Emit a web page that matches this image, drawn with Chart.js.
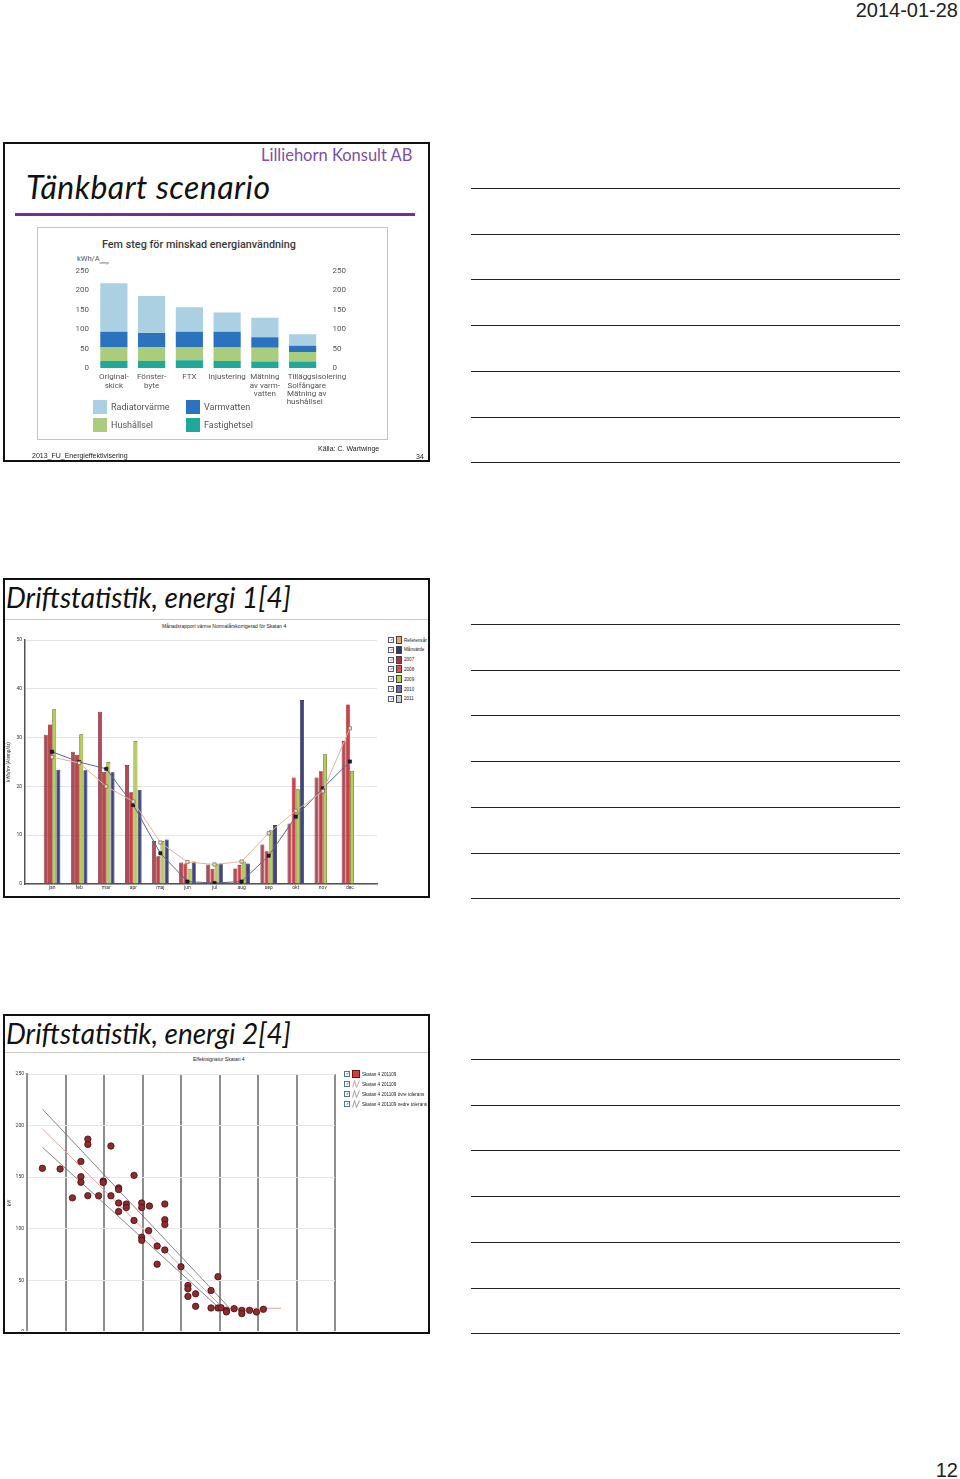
<!DOCTYPE html>
<html lang="sv">
<head>
<meta charset="UTF-8" />
<title>Tänkbart scenario / Driftstatistik</title>
<script src="https://cdn.jsdelivr.net/npm/chart.js@4.4.0/dist/chart.umd.min.js"></script>
<style>
  html, body { margin: 0; padding: 0; background: #fff; }
  body { width: 960px; height: 1479px; position: relative; overflow: hidden; font-family: 'Liberation Sans', Arial, sans-serif; color: #222; }
  .abs { position: absolute; white-space: nowrap; line-height: 1; }
  .slide { position: absolute; left: 3px; width: 427px; height: 320px; border: 2px solid #111; box-sizing: border-box; }
  .note-line { position: absolute; left: 471px; width: 429px; height: 0; border-top: 1.6px solid #222; }
  .slide-title { font-family: 'Lato', 'Open Sans', sans-serif; font-style: italic; font-size: 28px; color: #111; }
  .tiny { font-family: 'Liberation Sans', Arial, sans-serif; font-size: 5px; color: #222; }
  .lg-row { position: absolute; height: 8px; display: flex; align-items: center; font-size: 4.6px; color: #222; }
  .cb { width: 4px; height: 4px; border: 0.7px solid #557; margin-right: 2px; font-size: 4px; line-height: 4px; text-align: center; color: #111; }
  .sw { width: 6px; height: 8px; margin-right: 2px; box-sizing: border-box; border: 0.6px solid #444; }
  .lg1 { position: absolute; display: flex; align-items: center; font-family: 'Roboto', sans-serif; font-size: 9px; color: #555; }
  .lg1 span.box { width: 14px; height: 14px; margin-right: 4px; display: inline-block; }
</style>
</head>
<body>

<div class="abs" style="right:2px; top:0px; font-size:20px; color:#222;">2014-01-28</div>
<div class="abs" style="right:2px; top:1460px; font-size:20px; color:#222;">12</div>

<!-- slide frames -->
<div class="slide" style="top:142px;"></div>
<div class="slide" style="top:578px;"></div>
<div class="slide" style="top:1014px;"></div>

<!-- slide 1 -->
<div class="abs" style="left:261px; top:147px; font-family:'Lato',sans-serif; font-size:16.5px; color:#7d4fa6;">Lilliehorn Konsult AB</div>
<div class="abs" style="left:26px; top:171px; font-family:'Lato',sans-serif; font-style:italic; font-size:32px; letter-spacing:0.5px; color:#111;">Tänkbart scenario</div>
<div class="abs" style="left:15px; top:213px; width:400px; height:2.5px; background:#7030a0;"></div>
<div class="abs" style="left:37px; top:227px; width:351px; height:213px; border:1px solid #c4c4c4; box-sizing:border-box;"></div>
<div class="abs" style="left:102px; top:240px; font-family:'Roboto',sans-serif; font-size:10.8px; font-weight:500; color:#3a3a3a;">Fem steg för minskad energianvändning</div>
<div class="abs" style="left:77px; top:255px; font-family:'Roboto',sans-serif; font-size:7.5px; color:#555;">kWh/A<sub style="font-size:4px;">temp</sub></div>
<div class="abs" style="left:60px; top:255px; width:300px; height:157px;"><canvas id="stegChart"></canvas></div>
<div id="stegLegend"></div>
<div class="abs" style="left:32px; top:452px; font-size:7px; color:#222;">2013_FU_Energieffektivisering</div>
<div class="abs" style="left:318px; top:445px; font-size:7px; color:#222;">Källa: C. Wartwinge</div>
<div class="abs" style="left:416px; top:453px; font-size:7px; color:#222;">34</div>

<!-- slide 2 -->
<div class="abs slide-title" style="left:6px; top:583px;">Driftstatistik, energi 1[4]</div>
<div class="abs" style="left:5px; top:619px; width:423px; height:1px; background:#c8c8c8;"></div>
<div class="abs tiny" style="left:162px; top:624px;">Månadsrapport värme Normalårskorrigerad för Skatan 4</div>
<div class="abs" style="left:5px; top:630px; width:380px; height:262px;"><canvas id="manadChart"></canvas></div>
<div id="manadLegend"></div>

<!-- slide 3 -->
<div class="abs slide-title" style="left:6px; top:1019px;">Driftstatistik, energi 2[4]</div>
<div class="abs" style="left:5px; top:1052px; width:423px; height:1px; background:#c8c8c8;"></div>
<div class="abs tiny" style="left:193px; top:1057px;">Effektsignatur Skatan 4</div>
<div class="abs" style="left:5px; top:1016px; width:423px; height:315px; overflow:hidden;">
  <div class="abs" style="left:0px; top:50px; width:340px; height:272px;"><canvas id="signChart"></canvas></div>
</div>
<div id="signLegend"></div>

<script>
// ---- slide 1: Fem steg för minskad energianvändning ----
const sp = '\u2002';
const steps = [['Original-', 'skick'], ['Fönster-', 'byte'], 'FTX', 'Injustering',
               ['Mätning', 'av varm-', 'vatten'],
               [sp.repeat(7) + 'Tilläggsisolering', sp.repeat(7) + 'Solfångare' + sp.repeat(5),
                sp.repeat(7) + 'Mätning av' + sp.repeat(5), sp.repeat(7) + 'hushållsel' + sp.repeat(6)]];
const fastighetsel  = [18, 18, 20, 18, 17, 17];
const hushallsel    = [35, 36, 33, 35, 35, 24];
const varmvatten    = [40, 36, 40, 40, 27, 16];
const radiatorvarme = [125, 95, 63, 50, 50, 30];
const energyTicks   = [0, 50, 100, 150, 200, 250];

// ---- slide 2: Månadsrapport värme (kWh/m2) ----
const months     = ['jan', 'feb', 'mar', 'apr', 'maj', 'jun', 'jul', 'aug', 'sep', 'okt', 'nov', 'dec'];
const y2007      = [30.6, 27.1, 35.3, 24.4, 8.8, 4.4, 4.0, 3.2, 8.1, 12.4, 21.8, 29.3];
const y2008      = [32.7, 26.5, 23.0, 18.8, 5.7, 4.2, 3.1, 3.9, 6.7, 21.8, 23.1, 36.8];
const y2009      = [35.8, 30.7, 25.0, 29.3, 8.8, 3.1, 4.1, 4.6, 11.0, 19.4, 26.6, 23.2];
const y2010      = [23.4, 23.3, 22.9, 19.3, 9.1, 4.6, 4.2, 4.2, 12.1, 37.7, null, null];
const referensar = [26.0, 24.8, 20.0, 16.9, 8.5, 4.5, 4.0, 4.6, 10.4, 15.0, 19.0, 31.9];
const manvarde   = [27.1, 25.0, 23.6, 16.2, 6.3, 0.5, 0.2, 0.5, 5.8, 13.8, 19.6, 25.1];
const manadTicks = [0, 10, 20, 30, 40, 50];

// ---- slide 3: Effektsignatur (kW mot utetemperatur) ----
const signTemp = [-18.0, -15.7, -13.0, -12.1, -12.1, -9.1, -13.0, -13.0, -14.1, -12.1, -10.7, -10.1, -10.1, -9.1,
                  -8.1, -8.1, -8.1, -8.1, -7.1, -7.1, -6.1, -6.1, -5.1, -5.1, -5.1, -5.1, -4.1, -4.2, -3.1, -3.1,
                  -2.1, -2.1, -2.1, -2.1, 0.0, 0.9, 0.9, 0.9, 1.9, 1.9, 3.9, 3.9, 4.8, 4.8, 5.2, 5.9, 5.9, 6.9,
                  7.9, 7.9, 8.9, 9.8, 10.7];
const signKW   = [158.6, 158.0, 165.3, 186.9, 181.8, 180.2, 150.5, 145.1, 130.0, 132.1, 132.0, 146.3, 144.9, 132.0,
                  139.7, 138.0, 125.0, 116.7, 124.0, 120.6, 151.8, 108.1, 125.0, 120.6, 91.9, 88.8, 122.1, 98.2, 83.3, 65.7,
                  124.0, 108.8, 104.1, 79.5, 63.2, 45.0, 41.8, 34.5, 37.0, 24.9, 40.2, 23.3, 53.6, 23.3, 23.5, 21.0, 19.5, 22.6,
                  21.0, 17.8, 21.0, 19.4, 22.0];
const regTemp   = [-18, 5.5, 13];
const regKW     = [197, 23, 23];
const upperTemp = [-18, 6.2];
const upperKW   = [216, 24];
const lowerTemp = [-18, 5.0];
const lowerKW   = [179, 23];
const signTicks = [0, 50, 100, 150, 200, 250];

Chart.defaults.font.family = 'Roboto';
Chart.defaults.animation = false;

// note lines on the right of each slide
[188, 624, 1059].forEach(start => {
  for (let i = 0; i < 7; i++) {
    const d = document.createElement('div');
    d.className = 'note-line';
    d.style.top = (start + i * 45.7) + 'px';
    document.body.appendChild(d);
  }
});

// slide 1 legend (2x2)
const stegLeg = [
  ['Radiatorvärme', '#aad0e2', 93, 400], ['Varmvatten', '#2b73bf', 186, 400],
  ['Hushållsel', '#a9cd7c', 93, 418], ['Fastighetsel', '#1fa89b', 186, 418]
];
stegLeg.forEach(([name, col, x, y]) => {
  const el = document.createElement('div');
  el.className = 'lg1';
  el.style.left = x + 'px';
  el.style.top = y + 'px';
  el.innerHTML = `<span class="box" style="background:${col}"></span>${name}`;
  document.getElementById('stegLegend').appendChild(el);
});

const tickFont8 = { size: 8 };
const noGrid = { display: false, drawTicks: false, tickLength: 0 };
new Chart(document.getElementById('stegChart'), {
  type: 'bar',
  data: {
    labels: steps,
    datasets: [
      { label: 'Fastighetsel', data: fastighetsel, backgroundColor: '#1fa89b' },
      { label: 'Hushållsel', data: hushallsel, backgroundColor: '#a9cd7c' },
      { label: 'Varmvatten', data: varmvatten, backgroundColor: '#2b73bf' },
      { label: 'Radiatorvärme', data: radiatorvarme, backgroundColor: '#aad0e2' }
    ]
  },
  options: {
    responsive: true, maintainAspectRatio: false,
    layout: { padding: { top: 8, left: 0, right: 0, bottom: 0 } },
    plugins: { legend: { display: false }, tooltip: { enabled: false } },
    datasets: { bar: { barPercentage: 0.72, categoryPercentage: 1, borderWidth: 0 } },
    scales: {
      x: { stacked: true, grid: noGrid, border: { display: false },
           ticks: { font: { size: 8, lineHeight: 1.05 }, color: '#555', maxRotation: 0, autoSkip: false, padding: 5 },
           afterFit: s => { s.height = 44; } },
      y: { stacked: true, min: 0, max: 250, grid: noGrid, border: { display: false },
           ticks: { font: tickFont8, color: '#555', padding: 6 },
           afterBuildTicks: s => { s.ticks = energyTicks.map(v => ({ value: v })); },
           afterFit: s => { s.width = 35; } },
      y2: { position: 'right', min: 0, max: 250, grid: noGrid, border: { display: false },
            ticks: { font: tickFont8, color: '#555', padding: 11 },
            afterBuildTicks: s => { s.ticks = energyTicks.map(v => ({ value: v })); },
            afterFit: s => { s.width = 38.5; } }
    }
  }
});

// slide 2 legend
const manadLeg = [
  ['Referensår', '#e9a56a'], ['Månvärde', '#2c3a78'], ['2007', '#a8343f'], ['2008', '#dc4a4e'],
  ['2009', '#a9d247'], ['2010', '#6b6aa8'], ['2011', '#c9cad8']
];
manadLeg.forEach(([name, col], i) => {
  const el = document.createElement('div');
  el.className = 'lg-row';
  el.style.left = '388px';
  el.style.top = (636 + i * 9.8) + 'px';
  el.innerHTML = `<div class="cb">✓</div><div class="sw" style="background:${col}"></div>${name}`;
  document.getElementById('manadLegend').appendChild(el);
});

const xy = arr => arr.map((v, i) => ({ x: i, y: v }));
const tick5 = { size: 5 };
new Chart(document.getElementById('manadChart'), {
  data: {
    datasets: [
      { type: 'line', label: 'Referensår', data: xy(referensar), order: 0, borderColor: '#d9b79a', borderWidth: 1,
        pointStyle: 'rect', pointRadius: 2.3, pointBackgroundColor: '#f3e3c8', pointBorderColor: '#7a6040', pointBorderWidth: 0.7 },
      { type: 'line', label: 'Månvärde', data: xy(manvarde), order: 0, borderColor: '#5d6488', borderWidth: 1,
        pointStyle: 'rect', pointRadius: 2.3, pointBackgroundColor: '#1a1f3a', pointBorderColor: '#000', pointBorderWidth: 0.5 },
      { type: 'bar', label: '2007', data: xy(y2007), order: 1, backgroundColor: '#b24a57', borderColor: '#5a1620', borderWidth: 0.7 },
      { type: 'bar', label: '2008', data: xy(y2008), order: 1, backgroundColor: '#d33c45', borderColor: '#6a1418', borderWidth: 0.7 },
      { type: 'bar', label: '2009', data: xy(y2009), order: 1, backgroundColor: '#b6cc52', borderColor: '#4d5a14', borderWidth: 0.7 },
      { type: 'bar', label: '2010', data: xy(y2010), order: 1, backgroundColor: '#3e4382', borderColor: '#141838', borderWidth: 0.7 }
    ]
  },
  options: {
    responsive: true, maintainAspectRatio: false,
    layout: { padding: { top: 10, right: 8, left: 0, bottom: 0 } },
    plugins: { legend: { display: false }, tooltip: { enabled: false } },
    datasets: { bar: { categoryPercentage: 0.62, barPercentage: 0.95 } },
    scales: {
      x: { type: 'linear', min: -1, max: 12, offset: false, grid: noGrid,
           border: { color: '#555', width: 1.5 },
           ticks: { stepSize: 1, font: tick5, color: '#333', padding: 1, autoSkip: false, maxRotation: 0,
                    callback: v => months[v] || '' },
           afterFit: s => { s.height = 8; } },
      y: { min: 0, max: 50, grid: { color: '#e4e4e4', drawTicks: false }, border: { color: '#555', width: 1.5 },
           ticks: { font: tick5, color: '#333', padding: 3 },
           afterBuildTicks: s => { s.ticks = manadTicks.map(v => ({ value: v })); },
           title: { display: true, text: 'kWh/m² (Atemp/år)', font: { size: 4.5 }, color: '#333', padding: 1 },
           afterFit: s => { s.width = 20; } }
    }
  }
});

// slide 3 legend
const signLeg = [
  ['Skatan 4 201109', 'box', '#d33c3c'], ['Skatan 4 201109', 'line', '#d88888'],
  ['Skatan 4 201109 övre tolerans', 'line', '#888'], ['Skatan 4 201109 nedre tolerans', 'line', '#888']
];
signLeg.forEach(([name, kind, col], i) => {
  const el = document.createElement('div');
  el.className = 'lg-row';
  el.style.left = '344px';
  el.style.top = (1070 + i * 10) + 'px';
  const icon = kind === 'box'
    ? `<div class="sw" style="width:8px;background:${col};border-color:#7a1010"></div>`
    : `<svg width="8" height="8" style="margin-right:2px"><polyline points="0.5,7.5 2.5,0.5 4.5,7.5 7.5,0.5" fill="none" stroke="${col}" stroke-width="0.8"/></svg>`;
  el.innerHTML = `<div class="cb" style="border-color:#4a7a8a">✓</div>${icon}${name}`;
  document.getElementById('signLegend').appendChild(el);
});

const pts = (xs, ys) => xs.map((x, i) => ({ x: x, y: ys[i] }));
new Chart(document.getElementById('signChart'), {
  type: 'scatter',
  data: {
    datasets: [
      { label: 'Skatan 4 201109', data: pts(signTemp, signKW), order: 0,
        pointRadius: 3.2, pointBackgroundColor: '#8e2b2e', pointBorderColor: '#4a0c0e', pointBorderWidth: 0.8 },
      { type: 'line', label: 'Skatan 4 201109 linje', data: pts(regTemp, regKW), order: 1,
        borderColor: '#e2a3a3', borderWidth: 1, pointRadius: 0 },
      { type: 'line', label: 'Skatan 4 201109 övre tolerans', data: pts(upperTemp, upperKW), order: 1,
        borderColor: '#666', borderWidth: 0.8, pointRadius: 0 },
      { type: 'line', label: 'Skatan 4 201109 nedre tolerans', data: pts(lowerTemp, lowerKW), order: 1,
        borderColor: '#666', borderWidth: 0.8, pointRadius: 0 }
    ]
  },
  options: {
    responsive: true, maintainAspectRatio: false,
    layout: { padding: { top: 8, right: 10, left: 0, bottom: 0 } },
    plugins: { legend: { display: false }, tooltip: { enabled: false } },
    scales: {
      x: { type: 'linear', min: -20, max: 20, grid: { color: '#8e8e8e', lineWidth: 2, drawTicks: false },
           border: { display: false }, ticks: { display: false, stepSize: 5 },
           afterFit: s => { s.height = 0; } },
      y: { min: 0, max: 250, grid: { color: '#e6e6e6', drawTicks: false }, border: { color: '#8e8e8e', width: 2 },
           ticks: { font: tick5, color: '#333', padding: 3 },
           afterBuildTicks: s => { s.ticks = signTicks.map(v => ({ value: v })); },
           title: { display: true, text: 'kW', font: { size: 4.5 }, color: '#333', padding: 2 },
           afterFit: s => { s.width = 22; } }
    }
  }
});
</script>
</body>
</html>
